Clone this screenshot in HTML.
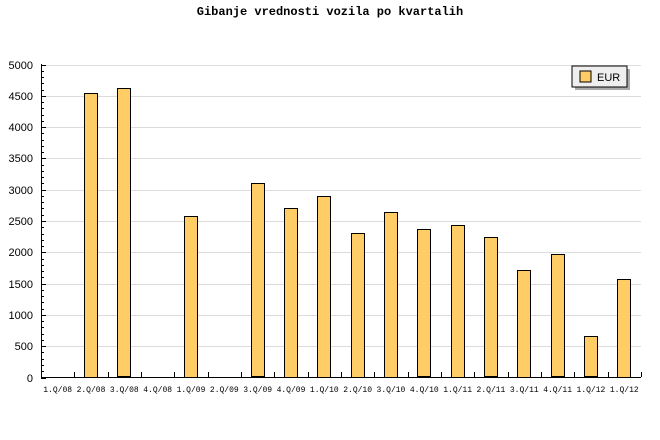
<!DOCTYPE html>
<html><head><meta charset="utf-8"><style>body{margin:0;background:#fff}svg{display:block}</style></head>
<body>
<svg width="660" height="440" xmlns="http://www.w3.org/2000/svg">
<rect width="660" height="440" fill="#fff"/>
<text x="330" y="15" text-anchor="middle" font-family="Liberation Mono, monospace" font-weight="bold" font-size="12">Gibanje vrednosti vozila po kvartalih</text>
<g id="grid" stroke="#dcdcdc" stroke-width="1"></g>
<g id="bars"></g>
<g id="axes" stroke="#000" stroke-width="1"></g>
<g id="ylab" font-family="Liberation Sans, sans-serif" font-size="11" text-anchor="end"></g>
<g id="xlab" font-family="Liberation Mono, monospace" font-size="8" text-anchor="middle"></g>
<rect x="575" y="69" width="55" height="21" fill="#aaa"/>
<rect x="572" y="66" width="55" height="21" fill="#eee" stroke="#000"/>
<rect x="580" y="71" width="11" height="11" fill="#ffcc66" stroke="#000"/>
<text x="597" y="81" font-family="Liberation Sans, sans-serif" font-size="11">EUR</text>
</svg>
<script>
const ns="http://www.w3.org/2000/svg";
function el(p,t,a,txt){const e=document.createElementNS(ns,t);for(const k in a)e.setAttribute(k,a[k]);if(txt)e.textContent=txt;document.getElementById(p).appendChild(e);}
const X0=41,Y0=377.5,H=313,W=33.33;
const vals=[0,4550,4620,0,2580,0,3100,2710,2900,2310,2650,2370,2440,2240,1720,1970,660,1580];
const labs=["1.Q/08","2.Q/08","3.Q/08","4.Q/08","1.Q/09","2.Q/09","3.Q/09","4.Q/09","1.Q/10","2.Q/10","3.Q/10","4.Q/10","1.Q/11","2.Q/11","3.Q/11","4.Q/11","1.Q/12","1.Q/12"];
for(let v=500;v<=5000;v+=500){const y=Math.round(Y0-v/5000*H)+0.5;el("grid","line",{x1:X0,x2:641,y1:y,y2:y});}
for(let v=0;v<=5000;v+=500){const y=Math.round(Y0-v/5000*H);el("ylab","text",{x:33,y:y+4},String(v));}
for(let v=0;v<=5000;v+=100){const y=Math.round(Y0-v/5000*H)+0.5;el("axes","line",{x1:X0,x2:X0+(v%500==0?5:3),y1:y,y2:y});}
vals.forEach((v,i)=>{const c=X0+(i+0.5)*W;if(v>0){const h=v/5000*H;el("bars","rect",{x:Math.round(c-7)+0.5,y:Math.round(Y0-h)+0.5,width:13,height:Math.round(h)-1,fill:"#ffcc66",stroke:"#000"});}
el("xlab","text",{x:c,y:392},labs[i]);});
el("axes","line",{x1:X0+0.5,x2:X0+0.5,y1:64,y2:378});
el("axes","line",{x1:X0,x2:641,y1:377.5,y2:377.5});
for(let i=1;i<=18;i++){const x=Math.round(X0+i*W)+0.5;el("axes","line",{x1:x,x2:x,y1:377,y2:372});}
</script>
</body></html>
